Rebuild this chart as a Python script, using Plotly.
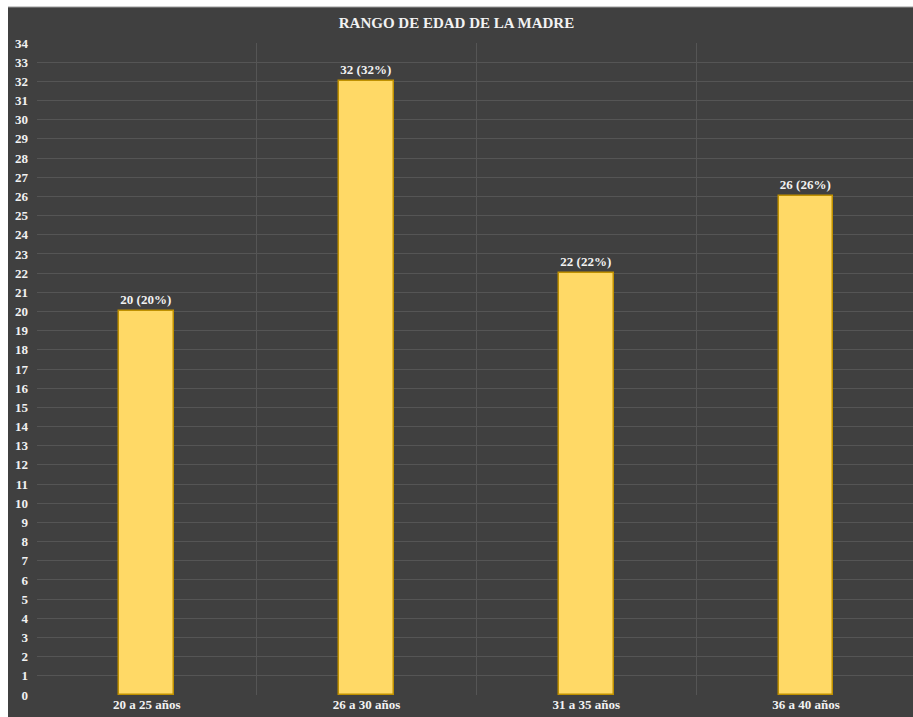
import plotly.graph_objects as go

# Datos
categorias = ["20 a 25 años", "26 a 30 años", "31 a 35 años", "36 a 40 años"]
madres = [20, 32, 22, 26]
y_ticks = list(range(0, 35))

total = sum(madres)
etiquetas = [f"{v} ({round(v * 100 / total)}%)" for v in madres]
posiciones = list(range(len(categorias)))

FONDO = "#404040"
TEXTO = "#F2F2F2"
FUENTE = "Liberation Serif, Times New Roman, serif"

fig = go.Figure()
fig.add_trace(go.Bar(
    x=posiciones,
    y=madres,
    width=0.25,
    text=etiquetas,
    textposition="outside",
    cliponaxis=False,
    textfont=dict(family=FUENTE, size=13, color=TEXTO, weight="bold"),
    marker=dict(color="#FFD966", line=dict(color="#BF9000", width=1.5)),
    hoverinfo="skip",
))

fig.update_layout(
    width=913,
    height=717,
    margin=dict(l=37, r=0, t=43, b=22),
    paper_bgcolor=FONDO,
    plot_bgcolor=FONDO,
    showlegend=False,
    bargap=0,
    title=dict(
        text="RANGO DE EDAD DE LA MADRE",
        x=0.5, xref="container", xanchor="center",
        y=1 - 23 / 717, yref="container", yanchor="middle",
        font=dict(family=FUENTE, size=15, color=TEXTO, weight="bold"),
    ),
    xaxis=dict(
        range=[-0.5, 3.487],
        tickvals=posiciones,
        ticktext=categorias,
        showgrid=False,
        zeroline=False,
        ticks="",
        tickfont=dict(family=FUENTE, size=13, color=TEXTO, weight="bold"),
        minor=dict(tick0=0.5, dtick=1, showgrid=True, gridcolor="#555555", gridwidth=1),
        fixedrange=True,
    ),
    yaxis=dict(
        range=[0, 34],
        tickvals=y_ticks,
        showgrid=True,
        gridcolor="#555555",
        gridwidth=1,
        zeroline=False,
        ticks="",
        ticklabelstandoff=8,
        tickfont=dict(family=FUENTE, size=13, color=TEXTO, weight="bold"),
        fixedrange=True,
    ),
)

# Marco blanco exterior (arriba e izquierda)
fig.add_shape(type="rect", xref="paper", yref="paper",
              x0=-37 / 876, x1=1.01, y0=(695 - 7) / 652, y1=(695 + 2) / 652 + 0.01,
              fillcolor="white", line=dict(width=0), layer="above")
fig.add_shape(type="rect", xref="paper", yref="paper",
              x0=-37 / 876 - 0.01, x1=-29 / 876, y0=-0.05, y1=1.1,
              fillcolor="white", line=dict(width=0), layer="above")
fig.add_shape(type="line", xref="paper", yref="paper",
              x0=-29 / 876, x1=1.01, y0=(695 - 7) / 652, y1=(695 - 7) / 652,
              line=dict(color="#9A9A9A", width=1), layer="above")

fig.write_html("out.html")
